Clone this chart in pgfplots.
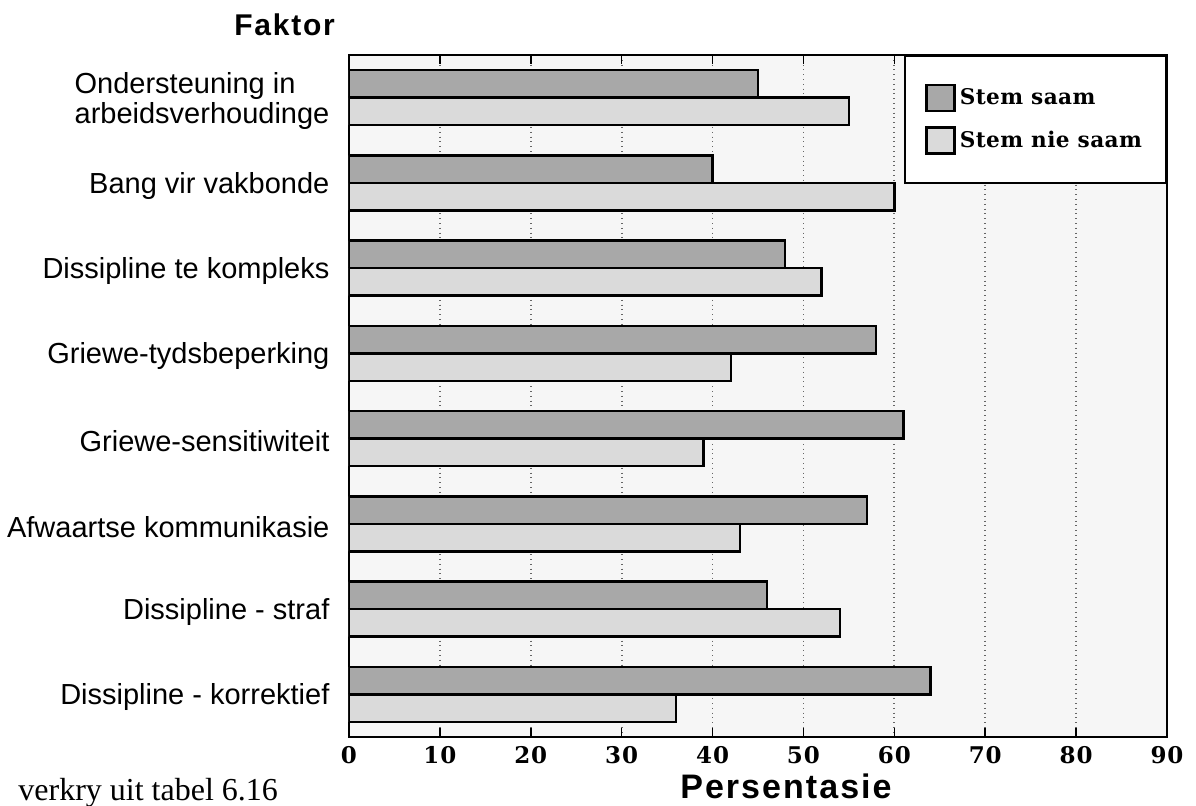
\documentclass[border=0pt]{standalone}
\usepackage{fontspec}
\setmainfont{Liberation Sans}
\newfontfamily\headfont{Liberation Sans}[LetterSpace=6]
\newfontfamily\numfont{DejaVu Serif}[LetterSpace=4]
\newfontfamily\keyfont{DejaVu Serif}[LetterSpace=2]
\newfontfamily\notefont{Liberation Serif}
\usepackage{pgfplots}
\pgfplotsset{compat=1.18}

\definecolor{agree}{HTML}{A8A8A8}
\definecolor{disagree}{HTML}{DADADA}
\definecolor{plotbg}{HTML}{F6F6F6}

\begin{document}
\begin{tikzpicture}[x=1pt,y=1pt]
\useasboundingbox (0,0) rectangle (598,403);
\begin{axis}[
  at={(174.5pt,34.5pt)}, anchor=south west,
  width=409pt, height=341pt, scale only axis,
  xbar,
  xmin=0, xmax=90, xtick={0,10,...,90},
  ymin=0.5, ymax=8.5, y dir=reverse,
  ytick={1,...,8},
  yticklabels={{Ondersteuning in\\arbeidsverhoudinge},
    {Bang vir vakbonde},
    {Dissipline te kompleks},
    {Griewe-tydsbeperking},
    {Griewe-sensitiwiteit},
    {Afwaartse kommunikasie},
    {Dissipline - straf},
    {Dissipline - korrektief}},
  major y tick style={draw=none},
  major x tick style={line width=0.8pt, black},
  bar width=13.75pt,
  xmajorgrids,
  major grid style={dotted, line width=0.9pt, black!60},
  axis line style={line width=1pt},
  axis background/.style={fill=plotbg},
  /pgf/number format/assume math mode=true,
  xticklabel style={font=\numfont\bfseries\fontsize{11.5}{12}\selectfont, yshift=-1pt},
  yticklabel style={font=\fontsize{14.5}{15}\selectfont, align=left, xshift=-2pt, yshift=-1.5pt},
  legend style={at={(1,1)}, anchor=north east, draw=black, line width=1pt,
    fill=white, font=\keyfont\bfseries\fontsize{10.8}{11}\selectfont,
    inner xsep=10pt, inner ysep=14pt, row sep=7pt,
    cells={anchor=west}},
  legend image code/.code={\draw[#1, line width=1.2pt] (0pt,-6.5pt) rectangle (14pt,6.5pt);},
]
% share of respondents that agree (upper bar of each pair)
\addplot[fill=agree, draw=black, line width=1.2pt, bar shift=6.875pt]
  coordinates {(45,1) (40,2) (48,3) (58,4) (61,5) (57,6) (46,7) (64,8)};
% share of respondents that disagree (lower bar of each pair)
\addplot[fill=disagree, draw=black, line width=1.2pt, bar shift=-6.875pt]
  coordinates {(55,1) (60,2) (52,3) (42,4) (39,5) (43,6) (54,7) (36,8)};
\legend{Stem saam, Stem nie saam}
\end{axis}
\node[anchor=east, font=\headfont\bfseries\fontsize{15}{16}\selectfont] at (171, 390.5) {Faktor};
\node[anchor=base, font=\headfont\bfseries\fontsize{17}{18}\selectfont] at (393, 3.5) {Persentasie};
\node[anchor=base west, inner sep=0pt, font=\notefont\fontsize{16}{17}\selectfont] at (9, 2.5) {verkry uit tabel 6.16};
\end{tikzpicture}
\end{document}
